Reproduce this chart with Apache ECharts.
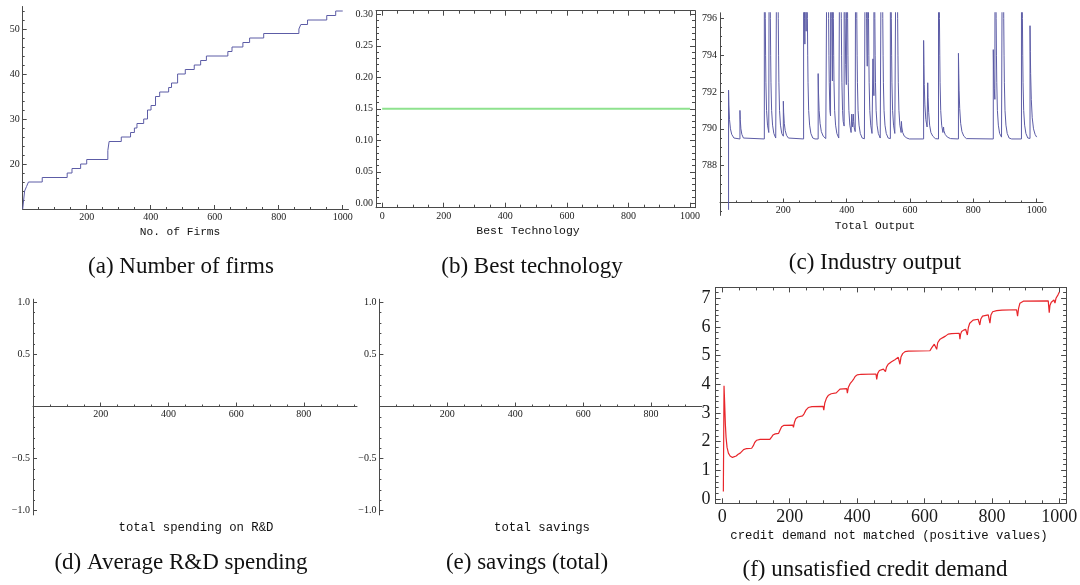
<!DOCTYPE html>
<html>
<head>
<meta charset="utf-8">
<script src="https://cdn.jsdelivr.net/npm/echarts@6/dist/echarts.min.js"></script>
<style>
  html, body { margin: 0; padding: 0; background: #ffffff; }
  #chart { width: 1080px; height: 585px; }
</style>
</head>
<body>
<div id="chart"></div>
<script>
var dom = document.getElementById('chart');
var myChart = echarts.init(dom, null, { renderer: 'canvas' });

// (a) number of firms: [period, firms] at each change
var firms = [
  [0, 10], [3, 12], [6, 14], [12, 15], [18, 16], [61, 17], [139, 18], [154, 19],
  [181, 20], [200, 21], [266, 23], [270, 25], [308, 26], [337, 27], [349, 28],
  [357, 29], [378, 30], [390, 32], [401, 33], [415, 35], [428, 36], [456, 37],
  [465, 38], [484, 40], [508, 41], [536, 42], [556, 43], [574, 44], [641, 45],
  [654, 46], [688, 47], [709, 48], [753, 49], [863, 50], [869, 51], [890, 52],
  [950, 53], [978, 54], [1000, 54]
];

// (b) best technology
var bestTech = [[0, 0.15], [1000, 0.15]];

// (c) total output (peaks above 796 are cut by the plot range)
var totalOutput = [
  [27, 785.6], [27, 792.1], [28, 791.3], [30, 790.5], [33, 790.0], [37, 789.7], [44, 789.5],
  [63, 789.45], [63, 791.0], [64, 790.5], [66, 790.0], [69, 789.7], [74, 789.5], [80, 789.45],
  [140, 789.45], [140, 807], [142, 799], [143, 796], [144, 794], [145, 792.5], [147, 791], [150, 790.2], [154, 789.8],
  [156, 789.75], [156, 807], [158, 799], [159, 796], [160, 794], [161, 792.5], [163, 791], [166, 790.2], [170, 789.75], [176, 789.5],
  [181, 789.5], [181, 807], [183, 799], [184, 796], [185, 794], [186, 792.5], [188, 791], [191, 790.2], [195, 789.75],
  [200, 789.6], [200, 791.5], [201, 790.9], [203, 790.3], [206, 789.9], [210, 789.65], [216, 789.5], [222, 789.45],
  [264, 789.45], [264, 807], [266, 799], [267, 796], [268, 794.6], [269, 807], [271, 799], [272, 795.3],
  [273, 807], [275, 799], [276, 796], [277, 794], [278, 792.5], [280, 791], [283, 790.2], [287, 789.75], [293, 789.5], [300, 789.45],
  [310, 789.45], [310, 793.0], [311, 792.0], [313, 791.0], [316, 790.3], [320, 789.85], [326, 789.6], [334, 789.47],
  [340, 789.46], [340, 807], [342, 799], [343, 796], [344, 794], [345, 792.5], [347, 791], [349, 790.7],
  [350, 807], [352, 799], [353, 796], [354, 794], [355, 792.6], [355, 807], [357, 799], [358, 796], [359, 794],
  [360, 792.5], [362, 791], [365, 790.2], [369, 789.75], [375, 789.5],
  [380, 789.47], [380, 807], [382, 799], [383, 796], [384, 794], [385, 792.5], [387, 791], [389, 790.4], [392, 790.15],
  [392, 807], [394, 799], [395, 796], [397, 793.5], [399, 792.4], [400, 807], [402, 799], [403, 796], [404, 794],
  [405, 792.5], [407, 791], [410, 790.2], [414, 789.8],
  [416, 789.75], [416, 790.8], [417, 790.4], [419, 790.1], [421, 790.0], [421, 790.8], [422, 790.4], [424, 790.05], [427, 789.85],
  [429, 789.8], [429, 807], [431, 799], [432, 796], [433, 794], [434, 792.5], [436, 791], [439, 790.2], [443, 789.75], [449, 789.5], [456, 789.46],
  [460, 789.46], [460, 807], [462, 799], [463, 796], [464, 794.5], [465, 793.4], [466, 807], [468, 799], [469, 796],
  [470, 794], [471, 792.5], [473, 791], [476, 790.2], [480, 789.75],
  [483, 789.65], [483, 793.8], [484, 792.6], [486, 791.8], [486, 807], [488, 799], [489, 796], [490, 794], [491, 792.5],
  [493, 791], [496, 790.2], [500, 789.75], [506, 789.5],
  [511, 789.48], [511, 807], [513, 799], [514, 796], [515, 794], [516, 792.5], [518, 791], [521, 790.2], [525, 789.75], [531, 789.5],
  [538, 789.47], [538, 807], [540, 799], [541, 796], [542, 794], [543, 792.5], [545, 791], [548, 790.2], [552, 789.75],
  [558, 789.7], [558, 807], [560, 799], [561, 796], [562, 794], [563, 792.5], [565, 791], [568, 790.2], [572, 789.8],
  [573, 790.4], [574, 790.1], [577, 789.8], [582, 789.6], [590, 789.5], [598, 789.45],
  [643, 789.45], [643, 794.8], [644, 793.5], [645, 792.4], [647, 791.3], [650, 790.5], [654, 790.1],
  [656, 790.05], [656, 792.5], [657, 791.7], [659, 790.9], [662, 790.2], [666, 789.8], [672, 789.6], [680, 789.47],
  [690, 789.45], [690, 807], [692, 799], [693, 796], [694, 794], [695, 792.5], [697, 791], [700, 790.2], [704, 789.8],
  [706, 790.1], [707, 789.9], [711, 789.7], [718, 789.55], [728, 789.47],
  [753, 789.45], [753, 794.1], [754, 793], [755, 792.1], [757, 791.1], [760, 790.3], [764, 789.85], [770, 789.6], [778, 789.47],
  [863, 789.45], [863, 794.3], [864, 793.2], [866, 792.2], [868, 791.6], [869, 807], [871, 799], [872, 796], [873, 794],
  [874, 792.5], [876, 791], [879, 790.2], [883, 789.75], [889, 789.55],
  [893, 789.52], [893, 807], [895, 799], [896, 796], [897, 794], [898, 792.5], [900, 791], [903, 790.2], [907, 789.75], [913, 789.5], [921, 789.45],
  [952, 789.45], [952, 807], [954, 799], [955, 796], [956, 794], [957, 792.5], [959, 791], [962, 790.2], [966, 789.75], [972, 789.5],
  [979, 789.48], [979, 795.6], [980, 794.2], [981, 793], [983, 791.6], [986, 790.6], [990, 790.0], [995, 789.7], [1000, 789.55]
];

// (f) credit demand not matched
var creditDemand = [
  [3, 0.26], [5, 3.95], [7, 3.3], [9, 2.6], [11, 2.15], [14, 1.8], [18, 1.6], [23, 1.5], [30, 1.45], [35, 1.44],
  [41, 1.5], [47, 1.56], [53, 1.6], [58, 1.63], [63, 1.72], [72, 1.76], [87, 1.77], [89, 1.71], [92, 1.86], [96, 1.97],
  [102, 2.05], [112, 2.08], [141, 2.08], [143, 2.03], [146, 2.16], [150, 2.23], [157, 2.27], [167, 2.29], [169, 2.24],
  [172, 2.42], [176, 2.52], [183, 2.57], [209, 2.58], [211, 2.5], [214, 2.68], [218, 2.8], [224, 2.86], [238, 2.9],
  [240, 2.86], [243, 2.98], [248, 3.1], [255, 3.19], [266, 3.22], [299, 3.23], [301, 3.1], [304, 3.35], [309, 3.52],
  [315, 3.62], [323, 3.67], [338, 3.7], [340, 3.67], [343, 3.76], [349, 3.83], [369, 3.85], [371, 3.69], [374, 3.9],
  [379, 4.02], [384, 4.09], [386, 4.04], [389, 4.17], [394, 4.27], [400, 4.33], [412, 4.35], [456, 4.36], [458, 4.17],
  [461, 4.38], [466, 4.48], [478, 4.53], [482, 4.5], [484, 4.44], [487, 4.6], [492, 4.7], [502, 4.79], [512, 4.86],
  [522, 4.94], [525, 4.92], [527, 4.7], [530, 4.95], [535, 5.07], [542, 5.14], [552, 5.16], [616, 5.17], [618, 5.12],
  [621, 5.27], [629, 5.4], [634, 5.43], [636, 5.22], [639, 5.45], [645, 5.56], [653, 5.62], [662, 5.68], [670, 5.75],
  [680, 5.77], [703, 5.78], [705, 5.57], [707, 5.75], [710, 5.84], [716, 5.89], [722, 5.92], [725, 5.9], [727, 5.72],
  [730, 5.98], [734, 6.13], [744, 6.24], [759, 6.27], [762, 6.26], [764, 6.07], [767, 6.28], [772, 6.38], [789, 6.42],
  [792, 6.4], [794, 6.13], [797, 6.42], [802, 6.53], [814, 6.57], [830, 6.59], [873, 6.6], [876, 6.38], [879, 6.65],
  [883, 6.83], [893, 6.9], [967, 6.91], [970, 6.5], [972, 6.75], [976, 6.86], [984, 6.94], [986, 6.9], [987, 6.83],
  [990, 7.0], [996, 7.12], [1000, 7.22]
];

// tick values / labels
var timeTicks = [0, 200, 400, 600, 800, 1000];
var timeLabels = [200, 400, 600, 800, 1000];
var timeLabelsShort = [200, 400, 600, 800];
var firmsTicks = [10, 20, 30, 40, 50];
var firmsLabels = [20, 30, 40, 50];
var techTicks = [0, 0.05, 0.10, 0.15, 0.20, 0.25, 0.30];
var outputTicks = [786, 788, 790, 792, 794, 796];
var outputLabels = [788, 790, 792, 794, 796];
var flatTicks = [-1, -0.5, 0, 0.5, 1];
var flatLabels = [-1, -0.5, 0.5, 1];
var creditTicks = [0, 1, 2, 3, 4, 5, 6, 7];

var AXIS = '#4a4a4a';
var SERIF = '"Liberation Serif", "Times New Roman", serif';
var MONO = '"Liberation Mono", "Courier New", monospace';

var grids = [
  { left: 22.7, top: 6.5, width: 325.8, height: 202.5, outerBoundsMode: 'none' },
  { left: 376, top: 10.7, width: 319, height: 197, outerBoundsMode: 'none' },
  { left: 720, top: 12.8, width: 323, height: 202.6, outerBoundsMode: 'none' },
  { left: 33, top: 299.2, width: 324, height: 215.7, outerBoundsMode: 'none' },
  { left: 379.4, top: 299.2, width: 322.3, height: 215.7, outerBoundsMode: 'none' },
  { left: 715.6, top: 287.4, width: 350.5, height: 215.9, outerBoundsMode: 'none' }
];

// minor tick positions: every `step` from `from` to `to`, skipping the majors
function minorTicks(from, to, step, major) {
  var out = [];
  for (var i = 0; from + i * step <= to + 1e-9; i++) {
    var v = Math.round((from + i * step) * 1000) / 1000;
    var k = v / major;
    if (Math.abs(k - Math.round(k)) > 1e-6) out.push(v);
  }
  return out;
}

// pixel shift that puts a bottom x axis at value `at` of the y range
function crossAt(at, min, max, grid) {
  return -(at - min) / (max - min) * grids[grid].height;
}

var plain = function (v) { return String(v); };
var twoDec = function (v) { return v.toFixed(2); };
var signed = function (v) { return (v < 0 ? '\u2212' : '') + Math.abs(v).toFixed(1); };

var xAxes = [];
var yAxes = [];

// pushes a major axis (line, ticks, labels) and a minor-tick axis; returns index of major
function addAxis(list, o) {
  var common = {
    type: 'value', gridIndex: o.grid, position: o.pos, min: o.min, max: o.max,
    offset: o.offset || 0, splitLine: { show: false }, minorTick: { show: false }
  };
  var major = Object.assign({}, common, {
    axisLine: { show: true, onZero: false, lineStyle: { color: AXIS, width: 1 } },
    axisTick: { show: true, inside: true, length: o.tick || 4, customValues: o.major, lineStyle: { color: AXIS, width: 1 } },
    axisLabel: o.labels ? {
      show: true, customValues: o.labels, formatter: o.fmt || plain,
      fontFamily: SERIF, fontSize: o.fontSize || 10, color: '#1a1a1a', margin: o.margin || 3
    } : { show: false }
  });
  var minor = Object.assign({}, common, {
    axisLine: { show: false, onZero: false },
    axisTick: { show: true, inside: true, length: o.minorLen || 2, customValues: o.minor, lineStyle: { color: AXIS, width: 1 } },
    axisLabel: { show: false }
  });
  list.push(major, minor);
  return list.length - 2;
}

// (a)
var ax0 = addAxis(xAxes, { grid: 0, pos: 'bottom', min: 0, max: 1018, major: timeTicks,
  minor: minorTicks(0, 1000, 50, 200), labels: timeLabels });
var ay0 = addAxis(yAxes, { grid: 0, pos: 'left', min: 10, max: 55, major: firmsTicks,
  minor: minorTicks(10, 54, 2, 10), labels: firmsLabels });

// (b) framed
var ax1 = addAxis(xAxes, { grid: 1, pos: 'bottom', min: -20, max: 1016, major: timeTicks,
  minor: minorTicks(0, 1000, 50, 200), labels: timeTicks, tick: 5, minorLen: 3, margin: 4 });
addAxis(xAxes, { grid: 1, pos: 'top', min: -20, max: 1016, major: timeTicks,
  minor: minorTicks(0, 1000, 50, 200), tick: 5, minorLen: 3 });
var ay1 = addAxis(yAxes, { grid: 1, pos: 'left', min: -0.007, max: 0.3057, major: techTicks,
  minor: minorTicks(0, 0.30, 0.01, 0.05), labels: techTicks, fmt: twoDec, tick: 5, minorLen: 3 });
addAxis(yAxes, { grid: 1, pos: 'right', min: -0.007, max: 0.3057, major: techTicks,
  minor: minorTicks(0, 0.30, 0.01, 0.05), tick: 5, minorLen: 3 });

// (c) x axis crosses at 786
var ax2 = addAxis(xAxes, { grid: 2, pos: 'bottom', min: 0, max: 1020, major: timeTicks,
  minor: minorTicks(0, 1000, 50, 200), labels: timeLabels, offset: crossAt(786, 785.3, 796.3, 2) });
var ay2 = addAxis(yAxes, { grid: 2, pos: 'left', min: 785.3, max: 796.3, major: outputTicks,
  minor: minorTicks(785.5, 796, 0.5, 2), labels: outputLabels });

// (d) and (e) empty plots, x axis crosses at 0
var ax3 = addAxis(xAxes, { grid: 3, pos: 'bottom', min: 0, max: 957, major: [0, 200, 400, 600, 800],
  minor: minorTicks(0, 957, 50, 200), labels: timeLabelsShort, offset: crossAt(0, -1.04, 1.03, 3) });
var ay3 = addAxis(yAxes, { grid: 3, pos: 'left', min: -1.04, max: 1.03, major: flatTicks,
  minor: minorTicks(-1, 1, 0.1, 0.5), labels: flatLabels, fmt: signed });
var ax4 = addAxis(xAxes, { grid: 4, pos: 'bottom', min: 0, max: 949, major: [0, 200, 400, 600, 800],
  minor: minorTicks(0, 949, 50, 200), labels: timeLabelsShort, offset: crossAt(0, -1.04, 1.03, 4) });
var ay4 = addAxis(yAxes, { grid: 4, pos: 'left', min: -1.04, max: 1.03, major: flatTicks,
  minor: minorTicks(-1, 1, 0.1, 0.5), labels: flatLabels, fmt: signed });

// (f) framed
var ax5 = addAxis(xAxes, { grid: 5, pos: 'bottom', min: -20, max: 1020, major: timeTicks,
  minor: minorTicks(0, 1000, 50, 200), labels: timeTicks, fontSize: 18, margin: 5, tick: 5, minorLen: 3 });
addAxis(xAxes, { grid: 5, pos: 'top', min: -20, max: 1020, major: timeTicks,
  minor: minorTicks(0, 1000, 50, 200), tick: 5, minorLen: 3 });
var ay5 = addAxis(yAxes, { grid: 5, pos: 'left', min: -0.15, max: 7.38, major: creditTicks,
  minor: minorTicks(0, 7.2, 0.2, 1), labels: creditTicks, fontSize: 18, margin: 5, tick: 5, minorLen: 3 });
addAxis(yAxes, { grid: 5, pos: 'right', min: -0.15, max: 7.38, major: creditTicks,
  minor: minorTicks(0, 7.2, 0.2, 1), tick: 5, minorLen: 3 });

function label(text, x, y, font, size) {
  return {
    type: 'text', x: x, y: y, silent: true,
    style: { text: text, fill: '#111', font: size + 'px ' + font, textAlign: 'center', textVerticalAlign: 'middle' }
  };
}

var option = {
  backgroundColor: '#ffffff',
  animation: false,
  grid: grids,
  xAxis: xAxes,
  yAxis: yAxes,
  series: [
    { type: 'line', name: 'No. of Firms', xAxisIndex: ax0, yAxisIndex: ay0, data: firms, step: 'end',
      showSymbol: false, lineStyle: { color: '#5c5ca6', width: 1 } },
    { type: 'line', name: 'Best Technology', xAxisIndex: ax1, yAxisIndex: ay1, data: bestTech,
      showSymbol: false, lineStyle: { color: '#8ee28e', width: 2 } },
    { type: 'line', name: 'Total Output', xAxisIndex: ax2, yAxisIndex: ay2, data: totalOutput,
      showSymbol: false, clip: true, lineStyle: { color: '#5c5ca6', width: 1 } },
    { type: 'line', name: 'total spending on R&D', xAxisIndex: ax3, yAxisIndex: ay3, data: [], showSymbol: false },
    { type: 'line', name: 'total savings', xAxisIndex: ax4, yAxisIndex: ay4, data: [], showSymbol: false },
    { type: 'line', name: 'credit demand not matched', xAxisIndex: ax5, yAxisIndex: ay5, data: creditDemand,
      showSymbol: false, lineStyle: { color: '#e8262b', width: 1.2 } }
  ],
  graphic: [
    label('No. of Firms', 180, 232.5, MONO, 11.2),
    label('Best Technology', 528, 231, MONO, 11.5),
    label('Total Output', 875, 226.5, MONO, 11.2),
    label('total spending on R&D', 196, 528, MONO, 12.3),
    label('total savings', 542, 528, MONO, 12.3),
    label('credit demand not matched (positive values)', 889, 536, MONO, 12.3),
    label('(a) Number of firms', 181, 267, SERIF, 23),
    label('(b) Best technology', 532, 267, SERIF, 23),
    label('(c) Industry output', 875, 263, SERIF, 23),
    label('(d) Average R&D spending', 181, 563, SERIF, 23),
    label('(e) savings (total)', 527, 563, SERIF, 23),
    label('(f) unsatisfied credit demand', 875, 570, SERIF, 23)
  ]
};

if (option && typeof option === 'object') {
  myChart.setOption(option);
}

window.addEventListener('resize', myChart.resize);
</script>
</body>
</html>
